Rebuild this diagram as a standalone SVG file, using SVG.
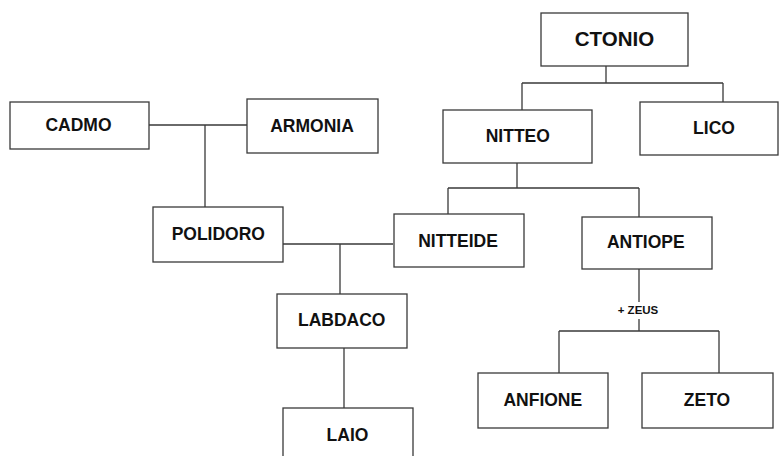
<svg xmlns="http://www.w3.org/2000/svg" width="779" height="456" viewBox="0 0 779 456">
<style>
.box{fill:#fff;stroke:#3a3a3a;stroke-width:1.3}
.lbl{font-family:"Liberation Sans",Arial,sans-serif;font-weight:bold;font-size:17.5px;fill:#111;text-anchor:middle}
.big{font-size:20.5px}
.small{font-size:11.5px}
.ln{fill:none;stroke:#3a3a3a;stroke-width:1.3}
</style>
<rect width="779" height="456" fill="#fff"/>
<g id="connectors">
<path class="ln" d="M149,125H247M205,125V207"/>
<path class="ln" d="M283,244H393M340,244V294"/>
<path class="ln" d="M344,348V408"/>
<path class="ln" d="M606,66V83M522,83H723M522,83V110M723,83V102"/>
<path class="ln" d="M517,163V188M448,188H639M448,188V214M639,188V217"/>
<path class="ln" d="M639,269V302M639,319V331M559,331H719M559,331V373M719,331V373"/>
<text class="lbl small" x="638" y="314.3">+ ZEUS</text>
</g>
<g id="cadmo"><rect class="box" x="10" y="102" width="139" height="47"/><text class="lbl" x="78.5" y="131">CADMO</text></g>
<g id="armonia"><rect class="box" x="247" y="99" width="131" height="54"/><text class="lbl" x="312" y="131.7">ARMONIA</text></g>
<g id="polidoro"><rect class="box" x="153" y="207" width="130" height="55"/><text class="lbl" x="218.3" y="240">POLIDORO</text></g>
<g id="ctonio"><rect class="box" x="541" y="13" width="147" height="53"/><text class="lbl big" x="614.5" y="46">CTONIO</text></g>
<g id="nitteo"><rect class="box" x="443" y="110" width="149" height="53"/><text class="lbl" x="517.8" y="141.7">NITTEO</text></g>
<g id="lico"><rect class="box" x="640" y="102" width="138" height="53"/><text class="lbl" x="714" y="134.3">LICO</text></g>
<g id="nitteide"><rect class="box" x="394" y="214" width="130" height="53"/><text class="lbl" x="458" y="246.7">NITTEIDE</text></g>
<g id="antiope"><rect class="box" x="582" y="217" width="130" height="52"/><text class="lbl" x="645.8" y="248.3">ANTIOPE</text></g>
<g id="labdaco"><rect class="box" x="277" y="294" width="130" height="54"/><text class="lbl" x="341.7" y="326">LABDACO</text></g>
<g id="laio"><rect class="box" x="283" y="408" width="130" height="60"/><text class="lbl" x="347.5" y="440.7">LAIO</text></g>
<g id="anfione"><rect class="box" x="478" y="373" width="130" height="55"/><text class="lbl" x="542.8" y="406">ANFIONE</text></g>
<g id="zeto"><rect class="box" x="642" y="373" width="131" height="55"/><text class="lbl" x="707" y="406">ZETO</text></g>
</svg>
